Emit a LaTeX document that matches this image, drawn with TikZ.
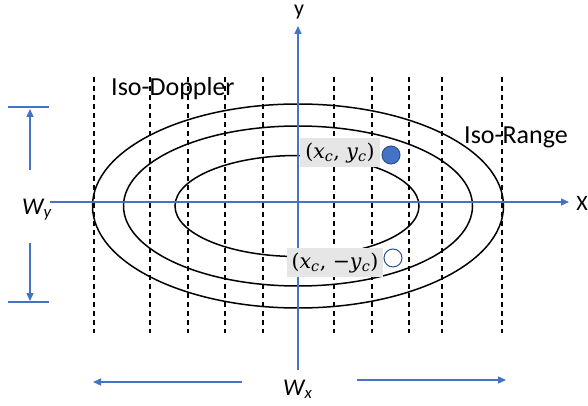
\documentclass[tikz,border=0pt]{standalone}
\usepackage{fontspec}
\setmainfont{Carlito}
\newfontfamily\mathlike{DejaVu Serif}
\usetikzlibrary{arrows.meta}
\definecolor{axblue}{HTML}{4472C4}
\definecolor{darkblue}{HTML}{2F528F}
\definecolor{lblgray}{HTML}{E7E6E6}
\newcommand{\mv}[1]{\textit{#1}}
\newcommand{\sbc}{\textsubscript{\textit{c}}}
\begin{document}
\begin{tikzpicture}[x=1pt,y=-1pt,
  blueln/.style={axblue, line width=1.3pt},
  axarrow/.style={blueln, -{Triangle[length=8pt,width=7pt]}},
  ell/.style={black, line width=1.5pt},
  dopp/.style={black, line width=1.2pt, dash pattern=on 5pt off 4pt},
  lbl/.style={font=\fontsize{26}{30}\selectfont, inner sep=0pt},
  axlbl/.style={font=\fontsize{22}{26}\selectfont, inner sep=0pt},
  wlbl/.style={font=\fontsize{24}{28}\selectfont\itshape, inner sep=0pt},
  mathlbl/.style={fill=lblgray, inner sep=0pt, minimum height=29pt, font=\mathlike\fontsize{20.5}{24}\selectfont},
  pt/.style={circle, draw=darkblue, line width=1pt, minimum size=18pt, inner sep=0pt},
  ]
\useasboundingbox (0,0) rectangle (588,406);

% iso-Doppler lines
\foreach \x in {94,150,188,225,263,334,372,409,442,502}{
  \draw[dopp] (\x,77) -- (\x,333);
}

% iso-range ellipses
\coordinate (c) at (298,206);
\draw[ell] (c) ellipse [x radius=205.5, y radius=102];
\draw[ell] (c) ellipse [x radius=174.5, y radius=80];
\draw[ell] (297,206) ellipse [x radius=122, y radius=50.5];

% axes
\coordinate (xs) at (50,202);
\coordinate (xe) at (569,202);
\coordinate (ys) at (298,370);
\coordinate (ye) at (298,26);
\draw[axarrow] (xs) -- (xe);
\draw[axarrow] (ys) -- (ye);
\node[axlbl, anchor=base] (ylab) at (299,16) {y};
\node[axlbl] (xlab) at (582,203) {X};

% labels
\node[lbl, anchor=base west] (dop) at (111,96) {Iso-Doppler};
\node[lbl, anchor=base west] (rng) at (464,143) {Iso-Range};

% points
\node[mathlbl, minimum width=80pt] (p1) at (340,152.5) {(\mv{x}\sbc, \mv{y}\sbc)};
\node[mathlbl, minimum width=96pt] (p2) at (335,262.5) {(\mv{x}\sbc, −\mv{y}\sbc)};
\node[pt, fill=axblue] (d1) at (391,155) {};
\node[pt, fill=white] (d2) at (393,258) {};

% W_y
\coordinate (wyt1) at (8,107);
\coordinate (wyt2) at (49,107);
\coordinate (wyb1) at (8,302);
\coordinate (wyb2) at (49,302);
\draw[blueln] (wyt1) -- (wyt2);
\draw[blueln] (wyb1) -- (wyb2);
\node[wlbl, anchor=base west] (wy) at (22,214) {W\textsubscript{y}};
\coordinate (wyu0) at (30,170);
\coordinate (wyu1) at (30,109);
\coordinate (wyd0) at (30,243);
\coordinate (wyd1) at (30,301);
\draw[axarrow] (wyu0) -- (wyu1);
\draw[axarrow] (wyd0) -- (wyd1);

% W_x
\node[wlbl, anchor=base west] (wx) at (283,395) {W\textsubscript{x}};
\coordinate (wxl0) at (242,382);
\coordinate (wxl1) at (93,382);
\coordinate (wxr0) at (357,380);
\coordinate (wxr1) at (506,380);
\draw[axarrow] (wxl0) -- (wxl1);
\draw[axarrow] (wxr0) -- (wxr1);
\end{tikzpicture}
\end{document}
